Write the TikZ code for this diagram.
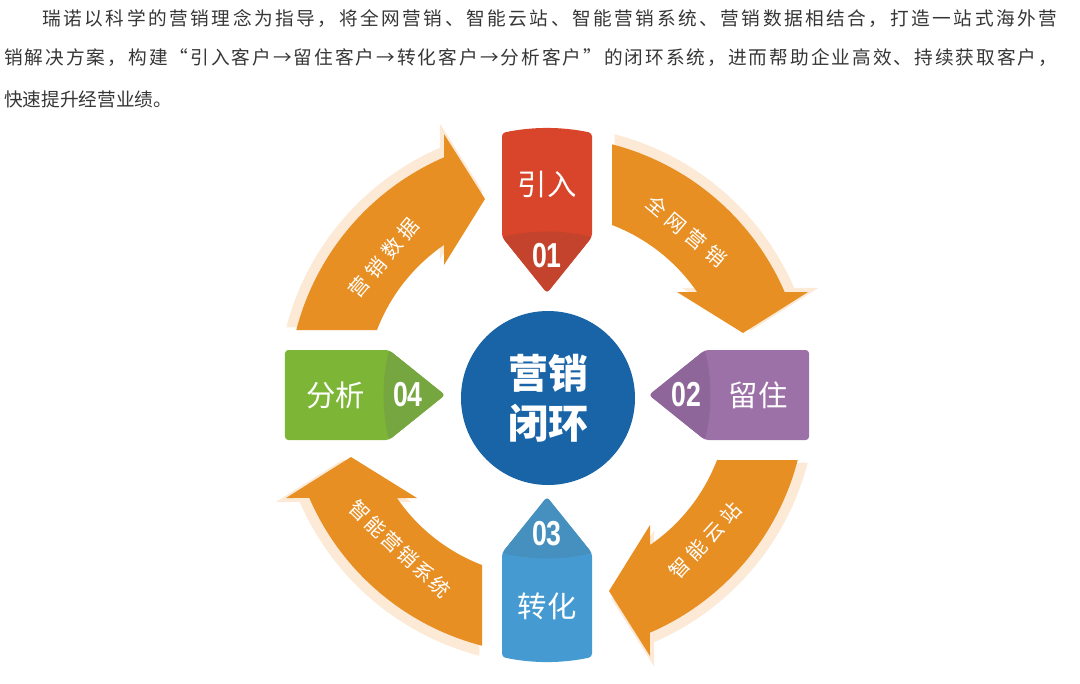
\documentclass[tikz,border=0pt]{standalone}
\usepackage{fontspec}
\newfontfamily\cjk{Noto Sans CJK SC}
\newfontfamily\numfont{Liberation Sans}

\definecolor{textgray}{HTML}{363636}
\definecolor{ring}{HTML}{E88F24}
\definecolor{ringshade}{HTML}{FCE9D6}
\definecolor{hubblue}{HTML}{1964A6}
\definecolor{boxred}{HTML}{D8452A}
\definecolor{boxreddark}{HTML}{C4432C}
\definecolor{boxpurple}{HTML}{9C71A7}
\definecolor{boxpurpledark}{HTML}{8E6699}
\definecolor{boxblue}{HTML}{459BD1}
\definecolor{boxbluedark}{HTML}{4590BE}
\definecolor{boxgreen}{HTML}{7DB537}
\definecolor{boxgreendark}{HTML}{75A640}

% spread the characters of one line over a given width
\def\spreadaux#1#2\endspread{#1\if\relax\detokenize{#2}\relax\else\hfil\spreadaux#2\endspread\fi}
\newcommand{\spreadline}[2]{\hbox to #1{\spreadaux#2\endspread}}

\begin{document}
\begin{tikzpicture}[x=0.75pt, y=0.75pt,
    para/.style={anchor=west, inner sep=0, text=textgray, font=\cjk\fontsize{14}{16}\selectfont},
    arctext/.style={text=white, inner sep=0, font=\cjk\fontsize{15}{18}\selectfont},
    boxname/.style={text=white, inner sep=0, font=\cjk\fontsize{22}{26}\selectfont},
    boxnum/.style={text=white, inner sep=0, font=\numfont\bfseries\fontsize{26}{30}\selectfont},
    hub/.style={circle, fill=hubblue, minimum size=130.5pt, inner sep=0, text=white, align=center, font=\cjk\bfseries\fontsize{30}{37.5}\selectfont}]
    \useasboundingbox (-547,-288) rectangle (533,395);

    % intro text
    \node[para] (line1) at (-505,377) {\spreadline{761.25pt}{瑞诺以科学的营销理念为指导，将全网营销、智能云站、智能营销系统、营销数据相结合，打造一站式海外营}};
    \node[para] (line2) at (-543,337) {\spreadline{789.75pt}{销解决方案，构建“引入客户→留住客户→转化客户→分析客户”的闭环系统，进而帮助企业高效、持续获取客户，}};
    \node[para] (line3) at (-543,296) {快速提升经营业绩。};

    % ring arrows
    \foreach \r in {0,-90,-180,-270} {
        \fill[ringshade, rotate=\r, scale=1.04] (65,250.7) arc[start angle=75.47, end angle=23.43, radius=259]
            -- (261,103) -- (196,62) -- (130,103) -- (150.05,103)
            arc[start angle=34.47, end angle=69.08, radius=182] -- cycle;
        \fill[ring, rotate=\r] (65,250.7) arc[start angle=75.47, end angle=23.43, radius=259]
            -- (261,103) -- (196,62) -- (130,103) -- (150.05,103)
            arc[start angle=34.47, end angle=69.08, radius=182] -- cycle;
    }
    \node[arctext, rotate=-40.4] (web) at (49.6:215) {\spreadline{73pt}{全网营销}};
    \node[arctext, rotate=47.3] (site) at (-42.7:215) {\spreadline{71pt}{智能云站}};
    \node[arctext, rotate=-43.6] (system) at (226.4:213) {\spreadline{97.4pt}{智能营销系统}};
    \node[arctext, rotate=50] (data) at (140:213) {\spreadline{71.6pt}{营销数据}};

    % hub
    \node[hub] (hub) at (1,-3) {营销\\闭环};

    % steps
    \foreach \r/\main/\dark/\num/\name/\bulge in {0/boxred/boxreddark/01/引入/268.5, -90/boxpurple/boxpurpledark/02/留住/262,
        -180/boxblue/boxbluedark/03/转化/268.5, -270/boxgreen/boxgreendark/04/分析/262} {
        \begin{scope}[rotate=\r]
            \fill[\main, rounded corners=2.5pt] (0,102) -- (-45,158) -- (-45,262)
                .. controls (-15,\bulge) and (15,\bulge) .. (45,262) -- (45,158) -- cycle;
            \fill[\dark, rounded corners=2.5pt] (0,102) -- (-45,158)
                .. controls (-15,165) and (15,165) .. (45,158) -- cycle;
            \node[boxnum] (num\num) at (0,139) {\scalebox{0.77}[1]{\num}};
            \node[boxname] (step\num) at (0,211) {\name};
        \end{scope}
    }
\end{tikzpicture}
\end{document}
